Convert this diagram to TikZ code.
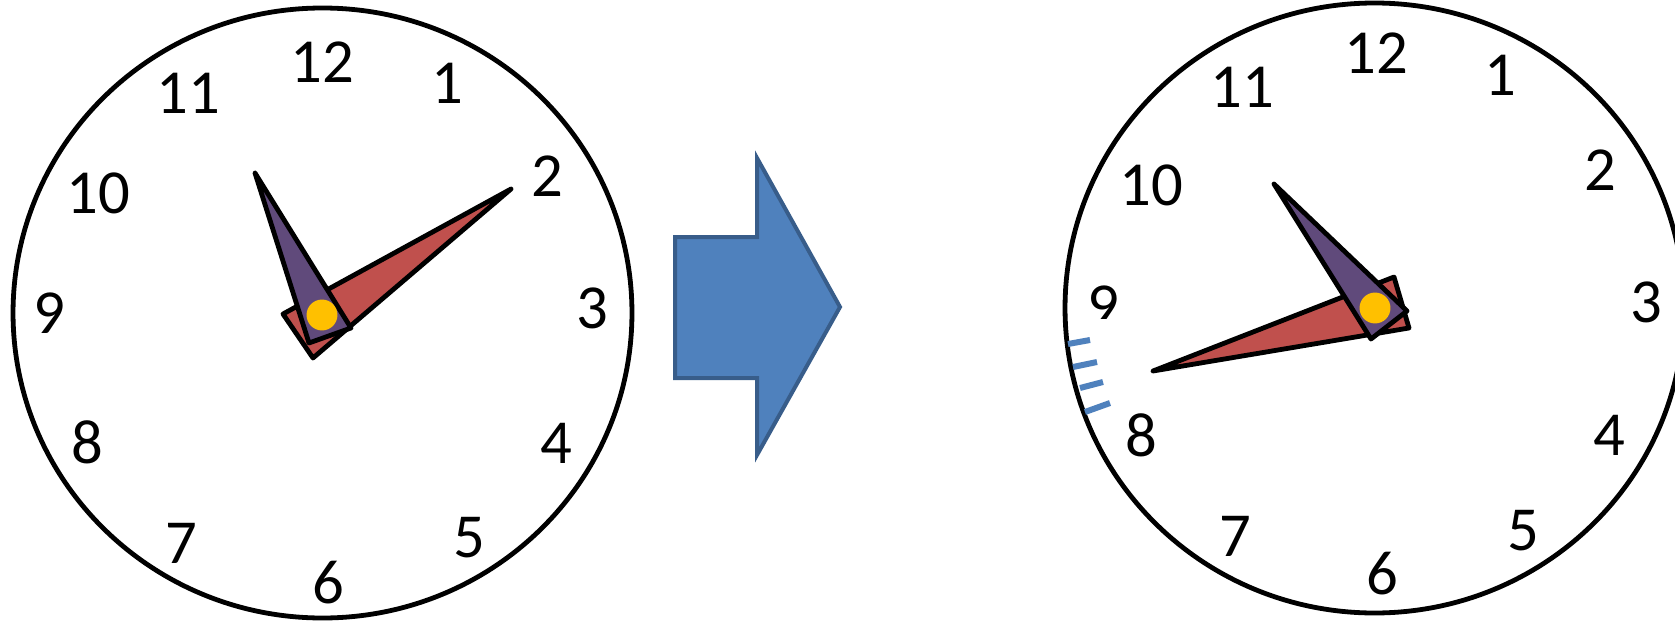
\documentclass[tikz,border=0pt]{standalone}
\usepackage{fontspec}
\setmainfont{Carlito}
\definecolor{handred}{HTML}{C0504D}
\definecolor{handpurple}{HTML}{604A7B}
\definecolor{pivotyellow}{HTML}{FFC000}
\definecolor{arrowfill}{HTML}{4F81BD}
\definecolor{arrowline}{HTML}{385D8A}
\tikzset{
  clockface/.style={draw=black,line width=3.6pt,fill=white},
  num/.style={inner sep=0pt,anchor=center,font=\fontsize{47}{50}\selectfont},
  minutehand/.style={draw=black,fill=handred,line width=3.6pt,line join=round},
  hourhand/.style={draw=black,fill=handpurple,line width=3.6pt,line join=round},
  pivot/.style={fill=pivotyellow},
  minutetick/.style={draw=arrowfill,line width=4.5pt},
  bigarrow/.style={draw=arrowline,fill=arrowfill,line width=3pt,line join=miter}
}
\begin{document}
\begin{tikzpicture}[x=0.75pt,y=-0.75pt]
\useasboundingbox (0,0) rectangle (1675,621);
% ---------- left clock ----------
\coordinate (lc) at (322.5,313);
\draw[clockface] (lc) ellipse [x radius=232.1pt, y radius=228.75pt];
\foreach \n/\x/\y in {12/322/62, 1/447/83, 2/547/176, 3/592/308, 4/556/443, 5/469/538,
                      6/328/583, 7/181/543, 8/87/442, 9/49/313, 10/98/193, 11/188/93}
  \node[num] (l\n) at (\x,\y) {\n};
\draw[minutehand] (511,189) -- (283,314) -- (313,358) -- cycle;
\draw[hourhand] (255,173) -- (309,343) -- (351,328) -- cycle;
\fill[pivot] (322,315) circle [radius=11.6pt];
% ---------- arrow ----------
\draw[bigarrow] (675,237) -- (757,237) -- (757,158) -- (840,307) -- (757,455)
                -- (757,378) -- (675,378) -- cycle;
% ---------- right clock ----------
\coordinate (rc) at (1374.5,308);
\draw[clockface] (rc) ellipse [x radius=232.1pt, y radius=228.75pt];
\foreach \n/\x/\y in {12/1376/53, 1/1500/75, 2/1600/170, 3/1646/302, 4/1609/435, 5/1523/531,
                      6/1382/574, 7/1235/536, 8/1141/435, 10/1151/185, 11/1242/87}
  \node[num] (r\n) at (\x,\y) {\n};
\begin{scope}
  \clip (1080,276) rectangle (1130,318);
  \node[num] (r9) at (1103,306) {9};
\end{scope}
\draw[minutetick] (1068,344) -- (1090,340);
\draw[minutetick] (1073,367) -- (1097,362);
\draw[minutetick] (1080,388) -- (1103,382);
\draw[minutetick] (1085,412) -- (1110,403);
\draw[minutehand] (1153,371) -- (1394,277) -- (1409,328) -- cycle;
\draw[hourhand] (1274,184) -- (1371,339) -- (1407,311) -- cycle;
\fill[pivot] (1375,308) circle [radius=11.6pt];
\end{tikzpicture}
\end{document}
